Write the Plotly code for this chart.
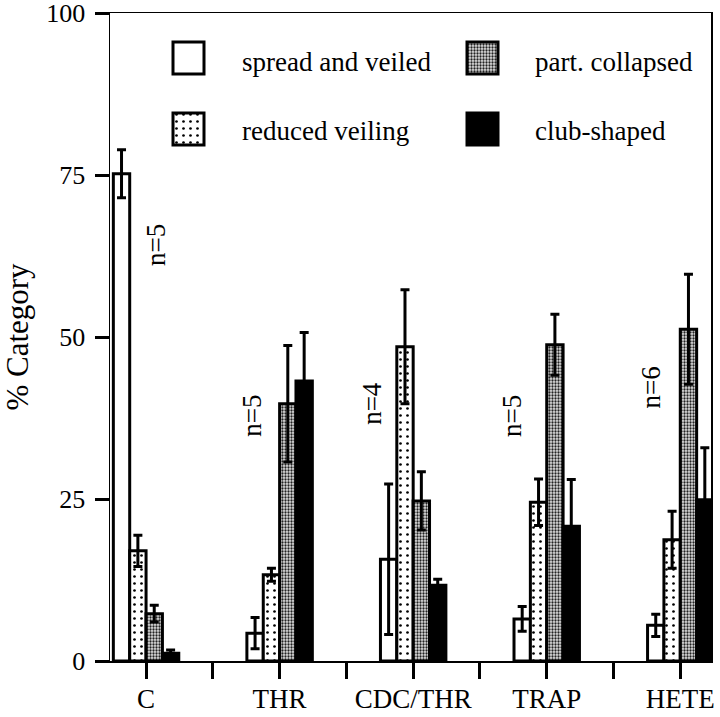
import plotly.graph_objects as go

categories = ["C", "THR", "CDC/THR", "TRAP", "HETE"]
spread_vals = [75.2, 4.3, 15.7, 6.5, 5.5]
spread_err = [3.7, 2.4, 11.6, 1.9, 1.7]
reduced_vals = [17.0, 13.3, 48.5, 24.5, 18.7]
reduced_err = [2.4, 1.0, 8.8, 3.6, 4.4]
collapsed_vals = [7.3, 39.7, 24.7, 48.8, 51.2]
collapsed_err = [1.3, 9.0, 4.5, 4.7, 8.5]
club_vals = [1.2, 43.2, 11.7, 20.8, 24.9]
club_err = [0.5, 7.5, 0.9, 7.2, 8.0]
n_labels = ["n=5", "n=5", "n=4", "n=5", "n=6"]
n_label_x = [0.075, 0.79, 1.69, 2.74, 3.78]
n_label_y = [64.2, 37.8, 39.8, 37.8, 42.2]
series_names = ["spread and veiled", "reduced veiling", "part. collapsed", "club-shaped"]

SERIF = "Liberation Serif, Times New Roman, serif"
xpos = list(range(len(categories)))

L, R, T, B = 110, 9, 13, 56
W, H = 720, 717
PW, PH = W - L - R, H - T - B

styles = [
    dict(color="white"),
    dict(color="white", pattern=dict(shape=".", fgcolor="black", bgcolor="white", size=7, solidity=0.12)),
    dict(color="#8a8a8a", pattern=dict(shape=".", fgcolor="#222", bgcolor="#e0e0e0", size=3, solidity=0.45)),
    dict(color="black"),
]
vals = [spread_vals, reduced_vals, collapsed_vals, club_vals]
errs = [spread_err, reduced_err, collapsed_err, club_err]

fig = go.Figure()
for name, v, e, st in zip(series_names, vals, errs, styles):
    fig.add_trace(go.Bar(
        x=xpos, y=v, name=name,
        marker=dict(line=dict(color="black", width=3), **st),
        error_y=dict(type="data", array=e, visible=True, color="black", thickness=3, width=4.5),
        showlegend=False,
    ))

# legend swatches on a hidden pixel-unit overlay axis (relative to plot-area top-left)
leg_x = [63, 63, 357, 357]
leg_top = [29, 100, 29, 100]
for i, (name, st) in enumerate(zip(series_names, styles)):
    fig.add_trace(go.Bar(
        x=[leg_x[i]], y=[32], base=[leg_top[i]], width=[31], offset=0,
        marker=dict(line=dict(color="black", width=3), **st),
        xaxis="x2", yaxis="y2", showlegend=False, hoverinfo="skip",
    ))

leg_text_x = [130, 130, 423, 423]
leg_text_y = [49, 118, 49, 118]
for i, name in enumerate(series_names):
    fig.add_annotation(x=leg_text_x[i] / PW, y=1 - leg_text_y[i] / PH,
                       xref="paper", yref="paper", text=name, showarrow=False,
                       xanchor="left", yanchor="middle",
                       font=dict(family=SERIF, size=27, color="black"))

for t, x, y in zip(n_labels, n_label_x, n_label_y):
    fig.add_annotation(x=x, y=y, text=t, showarrow=False, textangle=-90,
                       font=dict(family=SERIF, size=27, color="black"))

tickvals = [i * 0.5 for i in range(9)]
ticktext = [categories[i // 2] if i % 2 == 0 else "" for i in range(9)]

fig.update_layout(
    template="none",
    width=W, height=H,
    margin=dict(l=L, r=R, t=T, b=B, autoexpand=False),
    plot_bgcolor="white", paper_bgcolor="white",
    barmode="group", bargap=0.51, bargroupgap=0,
    font=dict(family=SERIF, color="black"),
    xaxis=dict(range=[-0.27, 4.23], tickvals=tickvals, ticktext=ticktext, automargin=False,
               ticks="outside", ticklen=16, tickwidth=3, tickcolor="black",
               showline=True, linecolor="black", linewidth=1.5, mirror=True,
               showgrid=False, zeroline=False, ticklabeloverflow="allow", ticklabelstandoff=-3,
               tickfont=dict(family=SERIF, size=27, color="black")),
    yaxis=dict(range=[0, 100], tickvals=[0, 25, 50, 75, 100], automargin=False,
               ticks="outside", ticklen=14, tickwidth=3, tickcolor="black",
               showline=True, linecolor="black", linewidth=1.5, mirror=True,
               showgrid=False, zeroline=False, ticklabelstandoff=4, ticklabeloverflow="allow",
               tickfont=dict(family=SERIF, size=26, color="black"),
               title=dict(text="% Category", font=dict(family=SERIF, size=31, color="black"), standoff=30)),
    xaxis2=dict(domain=[0, 1], anchor="y2", overlaying="x", range=[0, PW], visible=False, fixedrange=True),
    yaxis2=dict(domain=[0, 1], anchor="x2", overlaying="y", range=[PH, 0], visible=False, fixedrange=True),
)

fig.write_html("out.html", config={"displayModeBar": False, "staticPlot": True},
               post_script="document.body.style.margin='0';document.body.style.overflow='hidden';")
